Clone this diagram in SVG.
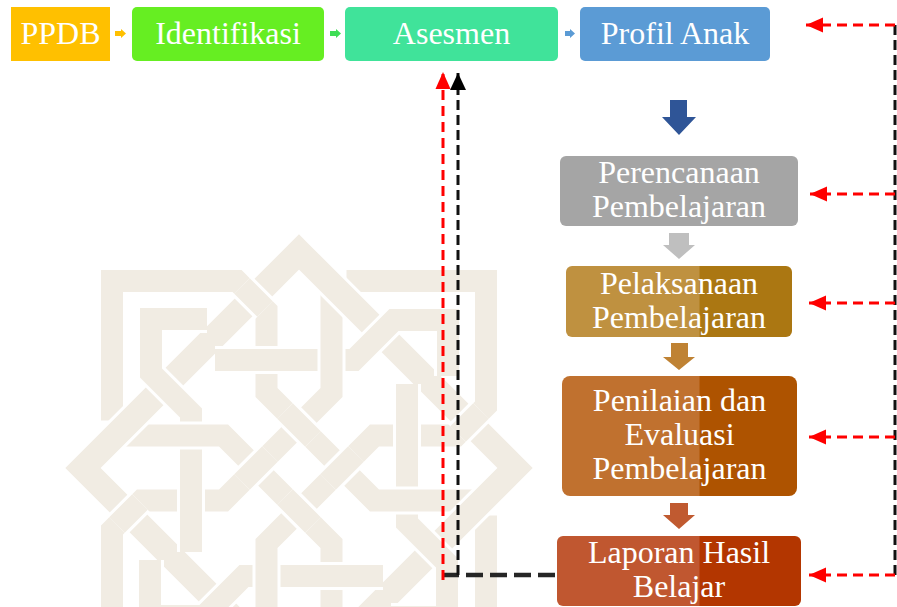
<svg xmlns="http://www.w3.org/2000/svg" width="897" height="607" viewBox="0 0 897 607">
<defs>
<style>
.lbl{font-family:"Liberation Serif","Times New Roman",serif;font-size:32px;fill:#ffffff;text-anchor:middle}
.cas{fill:none;stroke:#ffffff;stroke-width:28}
.fil{fill:none;stroke:#F1ECE3;stroke-width:22}
.dcas{fill:none;stroke:#ffffff;stroke-width:31}
.dfil{fill:none;stroke:#F1ECE3;stroke-width:25}
.red{fill:none;stroke:#FF0000;stroke-width:3;stroke-dasharray:10 6}
.blk{fill:none;stroke:#111111;stroke-width:3;stroke-dasharray:10 5}
.blk2{fill:none;stroke:#262626;stroke-width:4.5;stroke-dasharray:17 7}
</style>
<path id="hp" d="M-187,-47.5 L-187,-187 L-62,-187 L-32.5,-157.5 L-32.5,-75.5 L75.5,32.5 L172,32.5 L187,47.5"/>
<path id="qp" d="M-92,-149 L-148,-149 L-148,-95 L-108,-55 L-108,84"/>
<path id="dp" d="M0,-216 L216,0 L0,216 L-216,0 Z"/>
<path id="fp" d="M-14,-57 L14,-29 M-57,-182 L-34,-159 M88,32.5 L128,32.5"/>
<g id="hu"><use href="#hp" class="cas"/><use href="#hp" class="fil"/></g>
<g id="qu"><use href="#qp" class="cas"/><use href="#qp" class="fil"/></g>
<g id="fu"><use href="#fp" class="cas"/><use href="#fp" class="fil"/></g>
<marker id="hr" markerUnits="userSpaceOnUse" markerWidth="18" markerHeight="16" viewBox="0 0 18 16" refX="17" refY="8" orient="auto">
<path d="M0,0.5 L17,8 L0,15.5 Z" fill="#FF0000"/>
</marker>
<marker id="hb" markerUnits="userSpaceOnUse" markerWidth="18" markerHeight="18" viewBox="0 0 18 18" refX="17" refY="9" orient="auto">
<path d="M0,1 L17,9 L0,17 Z" fill="#000000"/>
</marker>
<linearGradient id="g1" gradientUnits="userSpaceOnUse" x1="699" y1="0" x2="700" y2="0">
<stop offset="0" stop-color="#BF9140"/><stop offset="1" stop-color="#AB7712"/>
</linearGradient>
<linearGradient id="g2" gradientUnits="userSpaceOnUse" x1="699" y1="0" x2="700" y2="0">
<stop offset="0" stop-color="#C0712F"/><stop offset="1" stop-color="#AE5300"/>
</linearGradient>
<linearGradient id="g3" gradientUnits="userSpaceOnUse" x1="699" y1="0" x2="700" y2="0">
<stop offset="0" stop-color="#C05730"/><stop offset="1" stop-color="#B33600"/>
</linearGradient>
</defs>

<g id="watermark" transform="translate(299,468)">
<use href="#hu"/>
<use href="#hu" transform="rotate(90)"/>
<use href="#hu" transform="rotate(180)"/>
<use href="#hu" transform="rotate(270)"/>
<use href="#dp" class="dcas"/>
<use href="#dp" class="dfil"/>
<use href="#qu"/>
<use href="#qu" transform="rotate(90)"/>
<use href="#qu" transform="rotate(180)"/>
<use href="#qu" transform="rotate(270)"/>
<use href="#fu"/>
<use href="#fu" transform="rotate(90)"/>
<use href="#fu" transform="rotate(180)"/>
<use href="#fu" transform="rotate(270)"/>
</g>

<g id="ppdb">
<rect x="11" y="7" width="99" height="54" fill="#FFC000"/>
<text class="lbl" x="60.5" y="44">PPDB</text>
</g>
<g id="identifikasi">
<rect x="132" y="7" width="192" height="54" rx="5" fill="#66EE22"/>
<text class="lbl" x="228" y="44">Identifikasi</text>
</g>
<g id="asesmen">
<rect x="345" y="7" width="213" height="54" rx="5" fill="#40E39A"/>
<text class="lbl" x="451.5" y="44">Asesmen</text>
</g>
<g id="profil-anak">
<rect x="580" y="7" width="190" height="54" rx="5" fill="#5B9BD5"/>
<text class="lbl" x="675" y="44">Profil Anak</text>
</g>
<g id="perencanaan">
<rect x="560" y="156" width="238" height="70" rx="6" fill="#A5A5A5"/>
<text class="lbl" x="679" y="183">Perencanaan</text>
<text class="lbl" x="679" y="217">Pembelajaran</text>
</g>
<g id="pelaksanaan">
<rect x="566" y="266" width="226" height="71" rx="6" fill="url(#g1)"/>
<text class="lbl" x="679" y="294">Pelaksanaan</text>
<text class="lbl" x="679" y="328">Pembelajaran</text>
</g>
<g id="penilaian">
<rect x="562" y="376" width="235" height="120" rx="8" fill="url(#g2)"/>
<text class="lbl" x="679.5" y="411">Penilaian dan</text>
<text class="lbl" x="679.5" y="445">Evaluasi</text>
<text class="lbl" x="679.5" y="479">Pembelajaran</text>
</g>
<g id="laporan">
<rect x="557" y="536" width="244" height="70" rx="6" fill="url(#g3)"/>
<text class="lbl" x="679" y="563">Laporan Hasil</text>
<text class="lbl" x="679" y="597">Belajar</text>
</g>

<g id="connectors">
<path d="M115,31 H121 V29 L126,33.5 L121,38 V36 H115 Z" fill="#FFC000"/>
<path d="M330,31 H336 V29 L341,33.5 L336,38 V36 H330 Z" fill="#3EDD55"/>
<path d="M565,31 H570 V29 L575,33.5 L570,38 V36 H565 Z" fill="#5B9BD5"/>
<path d="M670,100 H687 V117 H696 L679,135 L662,117 H670 Z" fill="#2F5597"/>
<path d="M669,233 H689 V245 H695 L679,259 L663,245 H669 Z" fill="#BFBFBF"/>
<path d="M671,343 H688 V357 H695 L679,370 L663,357 H671 Z" fill="#BF8233"/>
<path d="M670,503 H688 V515 H695 L679,529 L663,515 H670 Z" fill="#C05A30"/>

<path class="blk" d="M895,25 V575"/>
<path class="red" d="M895,25 H806" marker-end="url(#hr)"/>
<path class="red" d="M895,194 H810" marker-end="url(#hr)"/>
<path class="red" d="M895,303 H809" marker-end="url(#hr)"/>
<path class="red" d="M895,437 H809" marker-end="url(#hr)"/>
<path class="red" d="M895,575 H809" marker-end="url(#hr)"/>

<path class="blk2" d="M555,575 H443"/>
<path class="red" d="M443,580 V72" marker-end="url(#hr)"/>
<path class="blk" d="M458,575 V73" marker-end="url(#hb)"/>
</g>
</svg>
